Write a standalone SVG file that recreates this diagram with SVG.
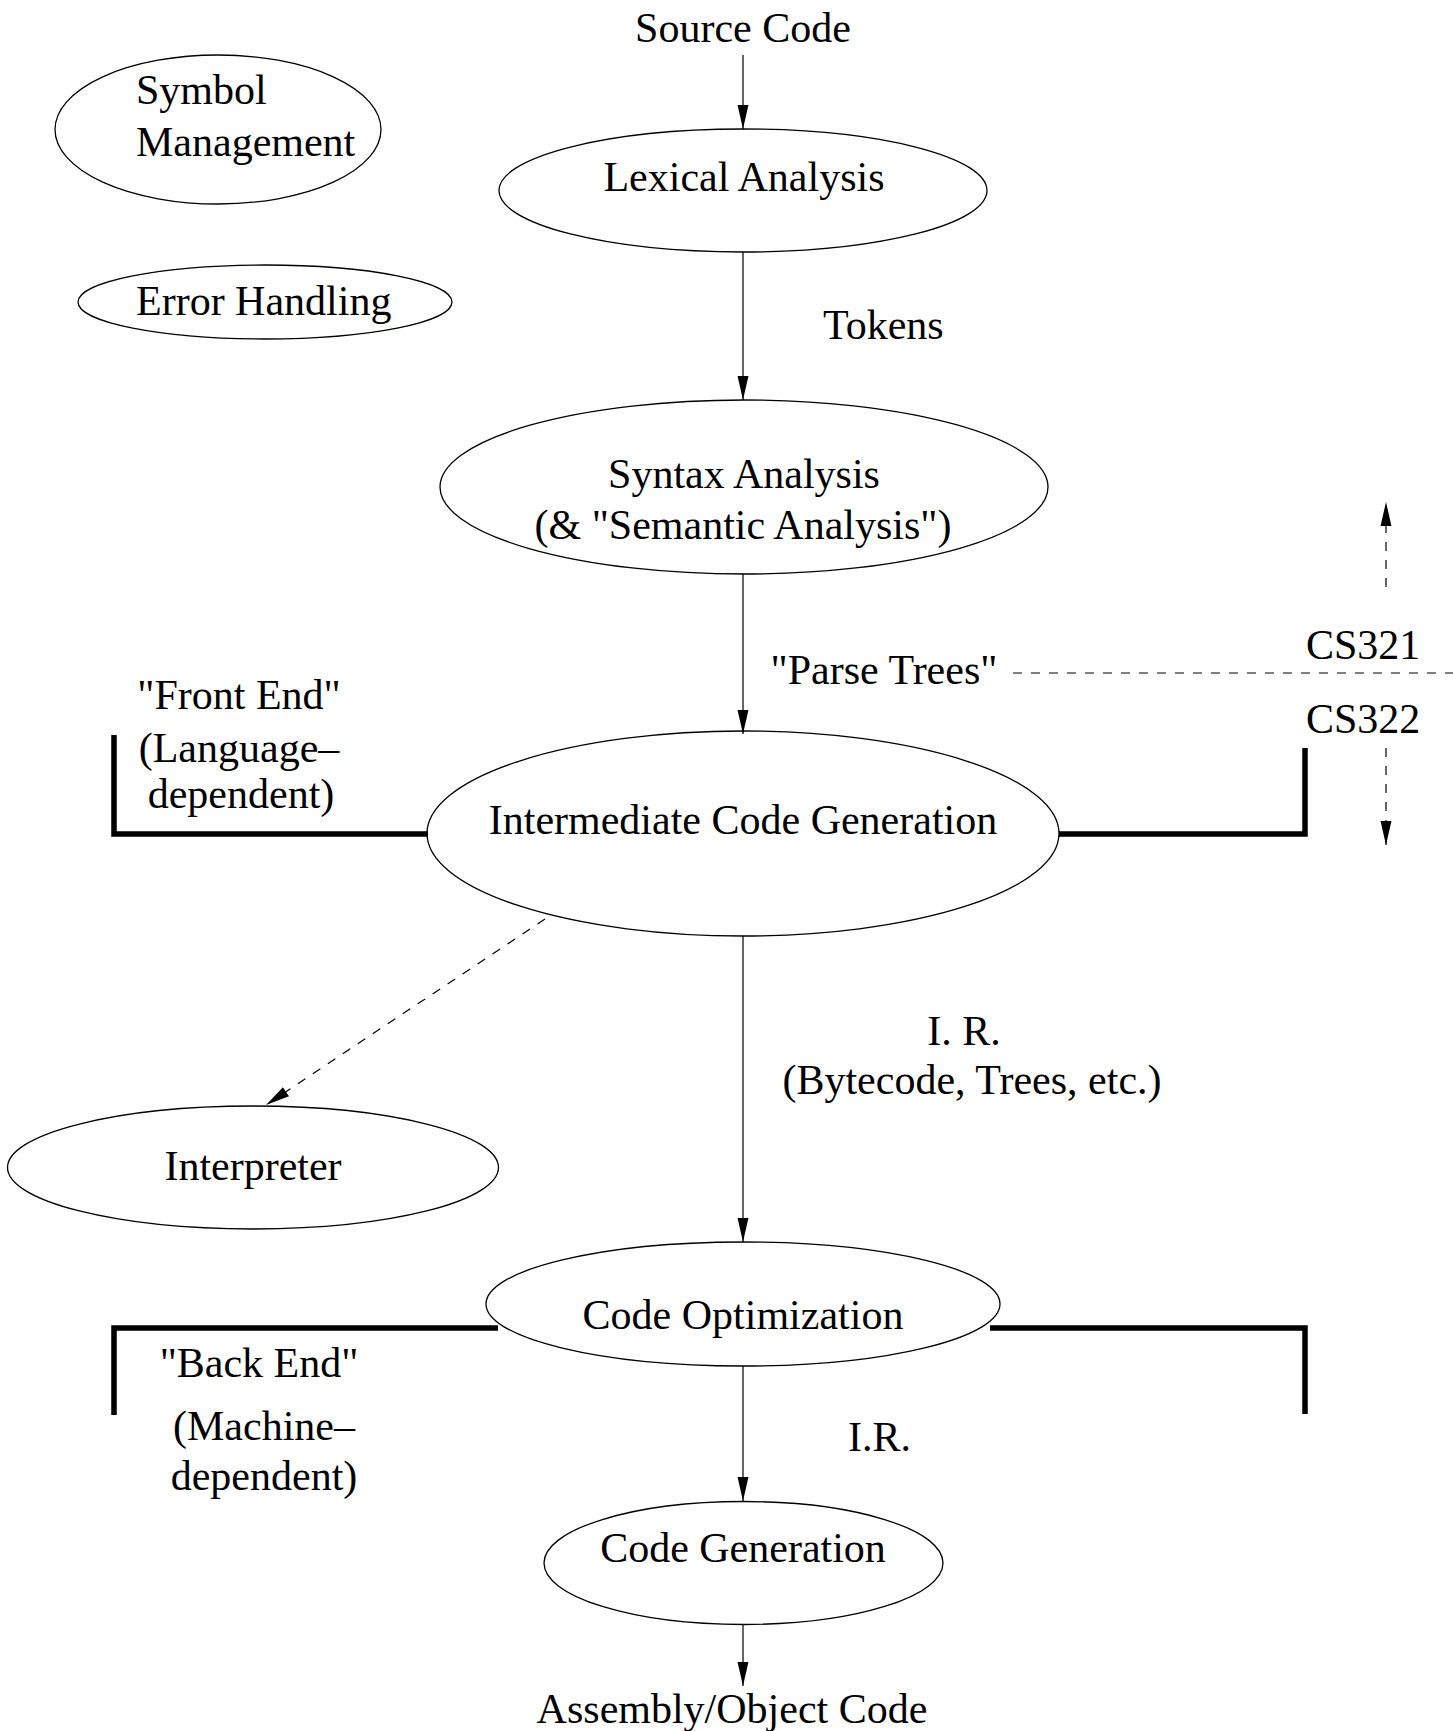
<svg xmlns="http://www.w3.org/2000/svg" width="1453" height="1731" viewBox="0 0 1453 1731">
<style>
text{font-family:"Liberation Serif","Times New Roman",serif;font-size:42px;fill:#000}
.c{text-anchor:middle}
.node{fill:none;stroke:#000;stroke-width:1.3}
.edge{fill:none;stroke:#000;stroke-width:1.2}
.dash{stroke-dasharray:9 9}
.bracket{fill:none;stroke:#000;stroke-width:5.5;stroke-linejoin:miter;stroke-linecap:butt}
</style>
<defs>
<marker id="arr" markerUnits="userSpaceOnUse" markerWidth="24" markerHeight="12" viewBox="0 0 22 10" refX="22" refY="5" orient="auto">
<path d="M0,0 L22,5 L0,10 Z" fill="#000"/>
</marker>
</defs>
<rect width="1453" height="1731" fill="#fff"/>
<g id="edges">
<line class="edge" x1="743" y1="55" x2="743" y2="129" marker-end="url(#arr)"/>
<line class="edge" x1="743" y1="252" x2="743" y2="400" marker-end="url(#arr)"/>
<line class="edge" x1="743" y1="574" x2="743" y2="734" marker-end="url(#arr)"/>
<line class="edge" x1="743" y1="936" x2="743" y2="1242" marker-end="url(#arr)"/>
<line class="edge" x1="743" y1="1366" x2="743" y2="1501" marker-end="url(#arr)"/>
<line class="edge" x1="743" y1="1625" x2="743" y2="1686" marker-end="url(#arr)"/>
<line class="edge dash" x1="545" y1="919" x2="266" y2="1105" marker-end="url(#arr)"/>
<line class="edge dash" x1="1013" y1="673" x2="1453" y2="673"/>
<line class="edge dash" x1="1386" y1="587" x2="1386" y2="502" marker-end="url(#arr)"/>
<line class="edge dash" x1="1386" y1="748" x2="1386" y2="845" marker-end="url(#arr)"/>
<polyline class="bracket" points="114,735 114,834 428,834"/>
<polyline class="bracket" points="1059,834 1305,834 1305,748"/>
<polyline class="bracket" points="114,1415 114,1328 498,1328"/>
<polyline class="bracket" points="990,1328 1305,1328 1305,1414"/>
</g>
<g id="source"><text class="c" x="743" y="42">Source Code</text></g>
<g id="symbol">
<ellipse class="node" cx="218" cy="129.5" rx="163" ry="74.5"/>
<text x="136" y="104">Symbol</text>
<text x="136" y="156">Management</text>
</g>
<g id="error">
<ellipse class="node" cx="265" cy="302" rx="187" ry="37"/>
<text x="136" y="315">Error Handling</text>
</g>
<g id="lexical">
<ellipse class="node" cx="743" cy="190.5" rx="244" ry="61.5"/>
<text class="c" x="744" y="191">Lexical Analysis</text>
</g>
<g id="tokens"><text x="823" y="339">Tokens</text></g>
<g id="syntax">
<ellipse class="node" cx="744" cy="487" rx="304" ry="87"/>
<text class="c" x="744" y="488">Syntax Analysis</text>
<text class="c" x="743" y="539">(&amp; "Semantic Analysis")</text>
</g>
<g id="parse"><text class="c" x="884" y="684">"Parse Trees"</text></g>
<g id="cs321"><text x="1306" y="659">CS321</text></g>
<g id="cs322"><text x="1306" y="733">CS322</text></g>
<g id="frontend">
<text class="c" x="239" y="709">"Front End"</text>
<text class="c" x="239" y="762">(Language–</text>
<text class="c" x="241" y="808">dependent)</text>
</g>
<g id="intermediate">
<ellipse class="node" cx="743" cy="833.5" rx="316" ry="102.5"/>
<text class="c" x="743" y="834">Intermediate Code Generation</text>
</g>
<g id="ir1">
<text class="c" x="964" y="1045">I. R.</text>
<text class="c" x="972" y="1094">(Bytecode, Trees, etc.)</text>
</g>
<g id="interpreter">
<ellipse class="node" cx="253" cy="1167.5" rx="245.5" ry="61.5"/>
<text class="c" x="253" y="1180">Interpreter</text>
</g>
<g id="codeopt">
<ellipse class="node" cx="743" cy="1304" rx="257" ry="62"/>
<text class="c" x="743" y="1329">Code Optimization</text>
</g>
<g id="backend">
<text class="c" x="259" y="1377">"Back End"</text>
<text class="c" x="264" y="1440">(Machine–</text>
<text class="c" x="264" y="1490">dependent)</text>
</g>
<g id="ir2"><text x="848" y="1451">I.R.</text></g>
<g id="codegen">
<ellipse class="node" cx="743.5" cy="1563" rx="199.5" ry="61.5"/>
<text class="c" x="743" y="1562">Code Generation</text>
</g>
<g id="assembly"><text class="c" x="732" y="1723">Assembly/Object Code</text></g>
</svg>
